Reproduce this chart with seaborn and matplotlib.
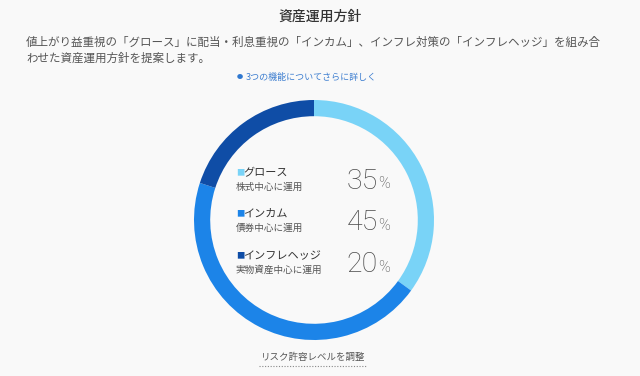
import matplotlib
matplotlib.use("Agg")
import matplotlib.pyplot as plt
import seaborn as sns

# data
labels = ["グロース", "インカム", "インフレヘッジ"]
subtitles = ["株式中心に運用", "債券中心に運用", "実物資産中心に運用"]
shares = [35, 45, 20]
colors = ["#79D3F7", "#1C84E8", "#0F4DA6"]

sns.set_theme(style="white")
plt.rcParams['font.family'] = ['Noto Sans CJK JP', 'DejaVu Sans']

bg = "#F9F9F9"
W, H = 640, 376
fig = plt.figure(figsize=(6.4, 3.76), dpi=100, facecolor=bg)

# donut
cx, cy, r = 314, 220, 120
ax = fig.add_axes([(cx - r) / W, (H - cy - r) / H, 2 * r / W, 2 * r / H])
ax.set_facecolor(bg)
ax.pie(shares, colors=colors, startangle=90, counterclock=False,
       wedgeprops=dict(width=0.135, edgecolor="none"))
ax.set_xlim(-1, 1)
ax.set_ylim(-1, 1)
ax.set_aspect("equal")
ax.axis("off")


def px(x, y):
    return x / W, 1 - y / H


fig.text(*px(320, 17), "資産運用方針", ha="center", va="center",
         fontsize=10, color="#333333", fontweight="medium")
fig.text(*px(26, 42), "値上がり益重視の「グロース」に配当・利息重視の「インカム」、インフレ対策の「インフレヘッジ」を組み合",
         ha="left", va="center", fontsize=8.3, color="#555555")
fig.text(*px(26, 58), "わせた資産運用方針を提案します。",
         ha="left", va="center", fontsize=8.3, color="#555555")
fig.text(*px(240, 77), "●", ha="center", va="center", fontsize=4.5, color="#2F78D0")
fig.text(*px(246, 77), "3つの機能についてさらに詳しく", ha="left", va="center",
         fontsize=6.5, color="#3F7FD0")

row_y = [173, 214, 256]
for lab, sub, val, col, y in zip(labels, subtitles, shares, colors, row_y):
    fig.text(*px(236, y), "■", ha="left", va="center", fontsize=6, color=col)
    fig.text(*px(243, y), lab, ha="left", va="center", fontsize=8, color="#333333")
    fig.text(*px(236, y + 14), sub, ha="left", va="center", fontsize=6.9, color="#555555")
    fig.text(*px(378, y + 8), str(val), ha="right", va="center", fontsize=20.5,
             color="#4A4A4A", family=["Roboto", "DejaVu Sans"], fontweight="light")
    fig.text(*px(378, y + 11), "%", ha="left", va="center", fontsize=11.5,
             color="#4A4A4A", family=["Roboto", "DejaVu Sans"], fontweight="light")

fig.text(*px(313, 357), "リスク許容レベルを調整", ha="center", va="center",
         fontsize=6.8, color="#555555")
fig.add_artist(plt.Line2D([259 / W, 367 / W], [1 - 366 / H, 1 - 366 / H],
                          color="#888888", lw=0.8, linestyle=(0, (1, 1.5))))

fig.savefig("out.png", dpi=100, facecolor=bg)
